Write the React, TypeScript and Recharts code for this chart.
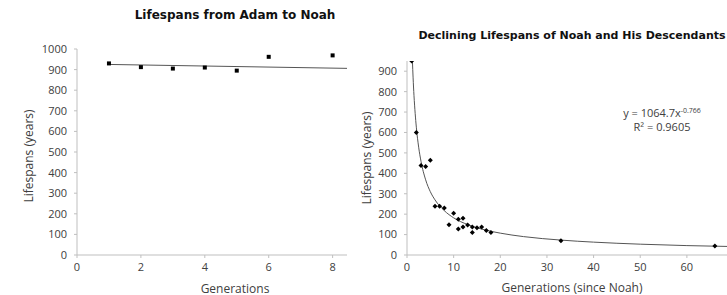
import { ScatterChart, Scatter, XAxis, YAxis } from "recharts";

// Left chart: Adam to Noah (generation, lifespan)
const adamGenerations = [1, 2, 3, 4, 5, 6, 8];
const adamLifespans = [930, 912, 905, 910, 895, 962, 969];
const adamTrendX = [1, 8.45];
const adamTrendY = [925, 906];
const adamXTicks = [0, 2, 4, 6, 8];
const adamYTicks = [0, 100, 200, 300, 400, 500, 600, 700, 800, 900, 1000];

// Right chart: Noah and descendants
const noahGenerations = [1, 2, 3, 4, 5, 6, 7, 8, 9, 10, 11, 11, 12, 12, 13, 14, 14, 15, 16, 17, 18, 33, 66];
const noahLifespans = [950, 600, 438, 433, 464, 239, 239, 230, 148, 205, 175, 127, 180, 137, 147, 137, 110, 133, 137, 120, 110, 70, 44];
const noahTrendX = [1.16, 1.3, 1.5, 1.75, 2, 2.5, 3, 4, 5, 6, 8, 10, 13, 16, 20, 25, 33, 40, 50, 60, 68.6];
const noahTrendY = [950, 871, 780, 694, 626, 528, 459, 368, 310, 270, 217, 182, 149, 127, 107, 90, 73, 63, 53, 46, 42];
const noahXTicks = [0, 10, 20, 30, 40, 50, 60];
const noahYTicks = [0, 100, 200, 300, 400, 500, 600, 700, 800, 900];

const toPoints = (xs: number[], ys: number[]) => xs.map((x, i) => ({ x, y: ys[i] }));

const AXIS = "#bfbfbf";
const TEXT = "#404040";
const tick = { fontSize: 11, fill: TEXT, fontFamily: "Open Sans" };

const Square = (p: any) => <rect x={p.cx - 2} y={p.cy - 2} width={4} height={4} fill="#000" />;
const Diamond = (p: any) => (
  <polygon points={`${p.cx},${p.cy - 2.5} ${p.cx + 2.5},${p.cy} ${p.cx},${p.cy + 2.5} ${p.cx - 2.5},${p.cy}`} fill="#000" />
);
const NoShape = () => <g />;

const abs = (left: number, top: number, extra: any = {}) => ({
  position: "absolute" as const,
  left,
  top,
  whiteSpace: "nowrap" as const,
  transform: "translate(-50%, -50%)",
  ...extra,
});

export default function App() {
  const axisText = { fontFamily: "Open Sans", fontSize: 12, color: TEXT };
  const titleText = { fontFamily: "DejaVu Sans", fontWeight: "bold", color: "#111" };

  return (
    <div style={{ position: "absolute", left: 0, top: 0, width: 727, height: 295, background: "#fff", overflow: "hidden" }}>
      <div style={{ position: "absolute", left: 0, top: 0 }}>
        <ScatterChart width={360} height={295} margin={{ top: 49, right: 13, bottom: 0, left: 0 }}>
          <XAxis
            type="number"
            dataKey="x"
            domain={[0, 8.45]}
            ticks={adamXTicks}
            allowDataOverflow
            height={40}
            stroke={AXIS}
            tickSize={3}
            tickMargin={5}
            tick={tick}
          />
          <YAxis
            type="number"
            dataKey="y"
            domain={[0, 1000]}
            ticks={adamYTicks}
            width={77}
            stroke={AXIS}
            tickSize={3}
            tickMargin={7}
            tick={tick}
          />
          <Scatter
            data={toPoints(adamTrendX, adamTrendY)}
            line={{ stroke: "#555", strokeWidth: 1 }}
            shape={NoShape}
            isAnimationActive={false}
          />
          <Scatter data={toPoints(adamGenerations, adamLifespans)} shape={Square} isAnimationActive={false} />
        </ScatterChart>
      </div>

      <div style={{ position: "absolute", left: 355, top: 0 }}>
        <ScatterChart width={372} height={295} margin={{ top: 61, right: 0, bottom: 0, left: 0 }}>
          <XAxis
            type="number"
            dataKey="x"
            domain={[0, 68.6]}
            ticks={noahXTicks}
            allowDataOverflow
            height={40}
            stroke={AXIS}
            tickSize={3}
            tickMargin={5}
            tick={tick}
          />
          <YAxis
            type="number"
            dataKey="y"
            domain={[0, 950]}
            ticks={noahYTicks}
            allowDataOverflow
            width={52}
            stroke={AXIS}
            tickSize={3}
            tickMargin={7}
            tick={tick}
          />
          <Scatter
            data={toPoints(noahTrendX, noahTrendY)}
            line={{ stroke: "#555", strokeWidth: 1 }}
            lineType="joint"
            lineJointType="monotoneX"
            shape={NoShape}
            isAnimationActive={false}
          />
          <Scatter data={toPoints(noahGenerations, noahLifespans)} shape={Diamond} isAnimationActive={false} />
        </ScatterChart>
      </div>

      <div style={abs(235, 15, { ...titleText, fontSize: 12 })}>Lifespans from Adam to Noah</div>
      <div style={abs(572, 35, { ...titleText, fontSize: 11 })}>Declining Lifespans of Noah and His Descendants</div>

      <div style={abs(28, 156, { ...axisText, transform: "translate(-50%, -50%) rotate(-90deg)" })}>Lifespans (years)</div>
      <div style={abs(235, 288, axisText)}>Generations</div>

      <div style={abs(366, 158, { ...axisText, transform: "translate(-50%, -50%) rotate(-90deg)" })}>Lifespans (years)</div>
      <div style={abs(572, 287, axisText)}>Generations (since Noah)</div>

      <div style={abs(662, 112, { fontFamily: "Open Sans", fontSize: 11, color: TEXT })}>
        y = 1064.7x<sup style={{ fontSize: 7, verticalAlign: "4px" }}>-0.766</sup>
      </div>
      <div style={abs(662, 126, { fontFamily: "Open Sans", fontSize: 11, color: TEXT })}>R² = 0.9605</div>
    </div>
  );
}
